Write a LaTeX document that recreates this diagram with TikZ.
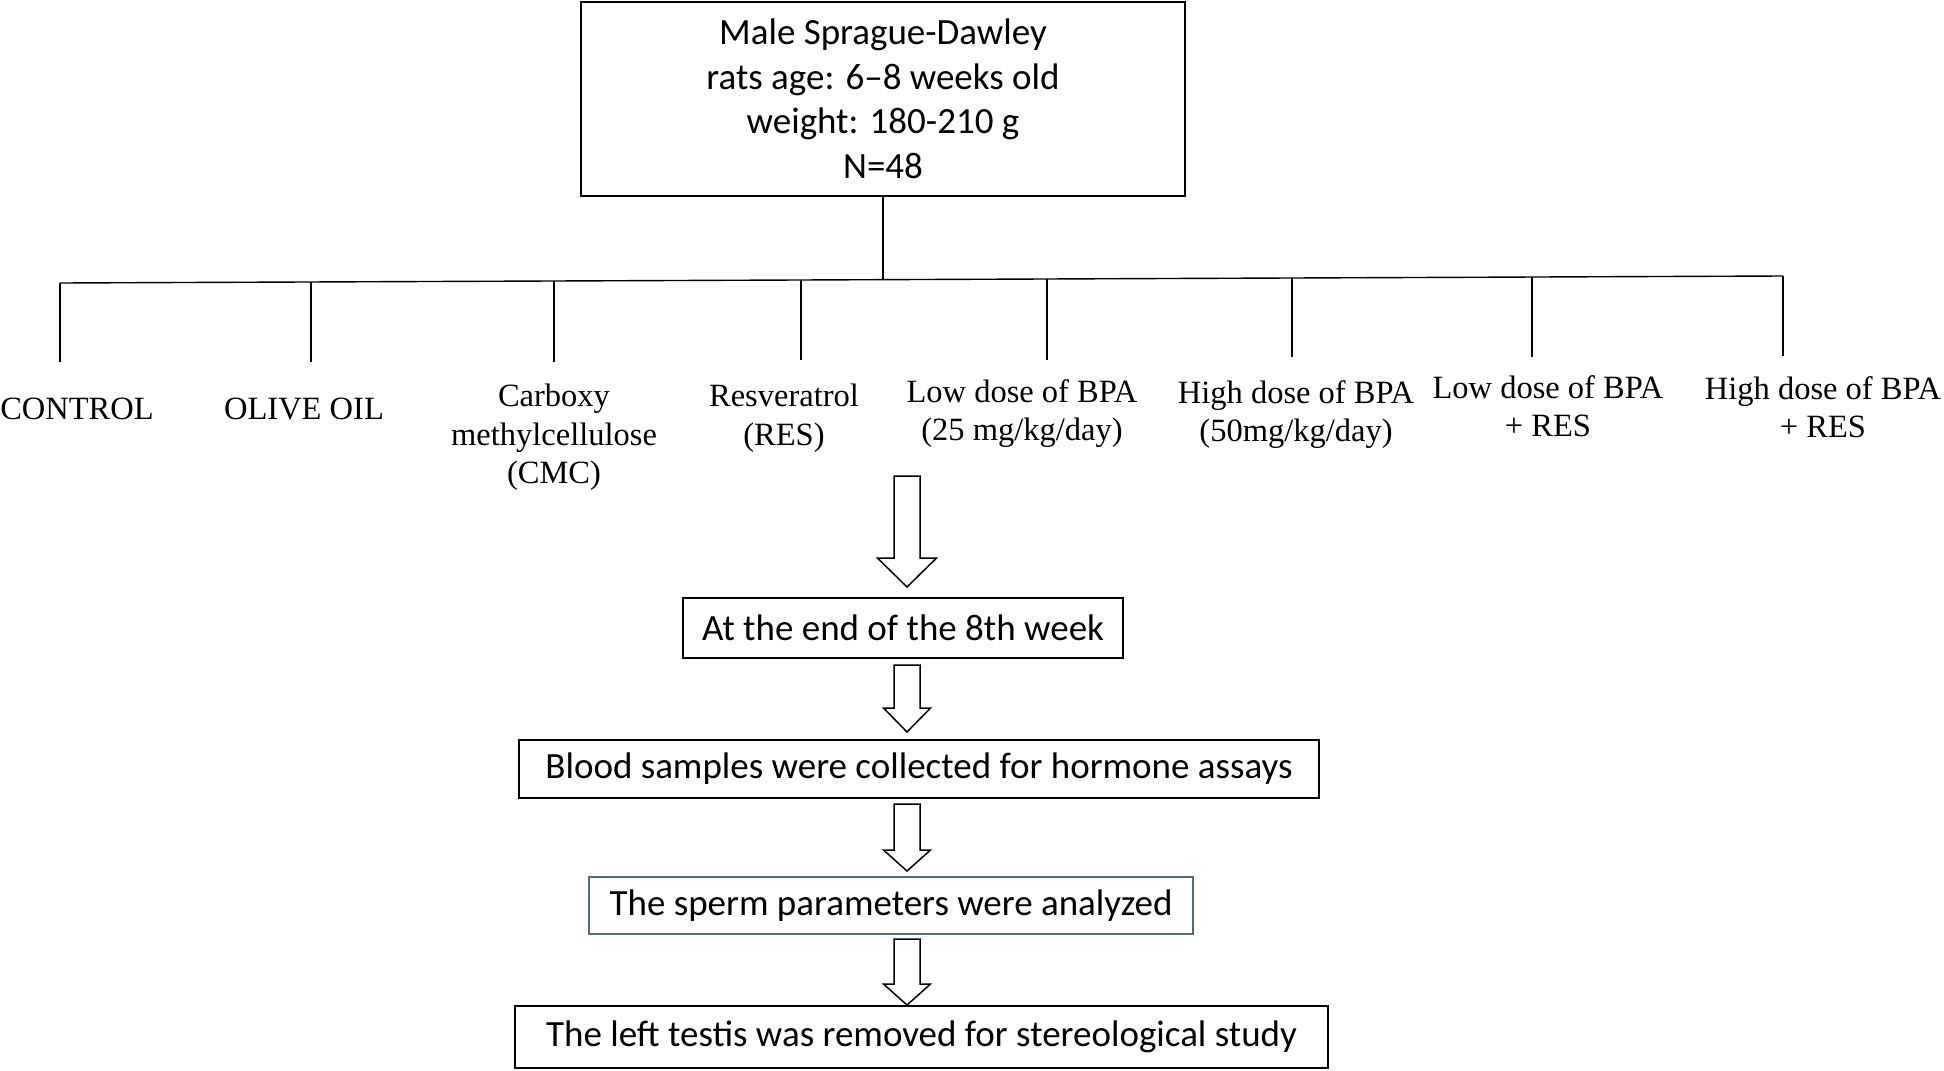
\documentclass[tikz,border=0pt]{standalone}
\usepackage{fontspec}
\setmainfont{Carlito}
\newfontfamily\tnr{Liberation Serif}
\definecolor{boxblue}{RGB}{84,104,140}
\newcommand\harrow[5]{%
  \draw[harr] ({#1-13},#2) -- ({#1+13},#2) -- ({#1+13},#3) -- ({#1+#5},#3)
    -- (#1,#4) -- ({#1-#5},#3) -- ({#1-13},#3) -- cycle;}
\begin{document}
\begin{tikzpicture}[x=1pt,y=-1pt,
  box/.style={draw, line width=1.8pt, inner sep=0pt, align=center,
    font=\fontsize{37}{44.5}\selectfont},
  grp/.style={inner sep=0pt, anchor=north, align=center,
    font=\tnr\fontsize{32.5}{38.5}\selectfont},
  tree/.style={line width=1.4pt},
  harr/.style={line width=1.5pt, fill=white, line join=miter}]
\fill[white] (0,0) rectangle (1944,1071);
\useasboundingbox (0,0) rectangle (1944,1071);

% top box
\node[box, minimum width=604pt, minimum height=194pt] (top) at (883,99)
  {Male Sprague-Dawley\\rats age: 6–8 weeks old\\weight: 180-210 g\\N=48};

% bus (slightly sloping, as in the reference)
\coordinate (t1) at (60,283);
\coordinate (t2) at (311,282);
\coordinate (t3) at (554,281);
\coordinate (t4) at (801,280);
\coordinate (stem) at (883,279.7);
\coordinate (t5) at (1047,279);
\coordinate (t6) at (1292,278);
\coordinate (t7) at (1532,277);
\coordinate (t8) at (1783,276);
\draw[tree] (top.south) -- (stem);
\draw[tree] (t1) -- (t8);

% drop ends
\coordinate (d1) at (60,362);
\coordinate (d2) at (311,362);
\coordinate (d3) at (554,362);
\coordinate (d4) at (801,360);
\coordinate (d5) at (1047,360);
\coordinate (d6) at (1292,357);
\coordinate (d7) at (1532,357);
\coordinate (d8) at (1783,356);
\foreach \i in {1,...,8}
  \draw[tree] (t\i) -- (d\i);

% group labels
\node[grp] (g1) at (77,398) {CONTROL};
\node[grp] (g2) at (304,398) {OLIVE OIL};
\node[grp] (g3) at (554,384) {Carboxy\\methylcellulose\\(CMC)};
\node[grp] (g4) at (784,384) {Resveratrol\\(RES)};
\node[grp] (g5) at (1022,379) {Low dose of BPA\\(25 mg/kg/day)};
\node[grp] (g6) at (1296,380) {High dose of BPA\\(50mg/kg/day)};
\node[grp] (g7) at (1548,375) {Low dose of BPA\\+ RES};
\node[grp] (g8) at (1823,376) {High dose of BPA\\+ RES};

% process boxes
\node[box, minimum width=440pt, minimum height=60pt] (b1) at (903,628)
  {At the end of the 8th week};
\node[box, minimum width=800pt, minimum height=58pt] (b2) at (919,769)
  {Blood samples were collected for hormone assays};
\node[box, draw=boxblue, line width=1.5pt, minimum width=604pt, minimum height=57pt] (b3) at (891,905.5)
  {The sperm parameters were analyzed};
\node[box, minimum width=813pt, minimum height=62pt] (b4) at (921.5,1037)
  {The left testis was removed for stereological study};

% hollow arrows
\harrow{907}{476}{558}{587}{29.5}
\harrow{907}{665}{708}{732}{23.5}
\harrow{907}{804}{850}{871}{23.5}
\harrow{907}{939}{984}{1005}{23.5}
\end{tikzpicture}
\end{document}
